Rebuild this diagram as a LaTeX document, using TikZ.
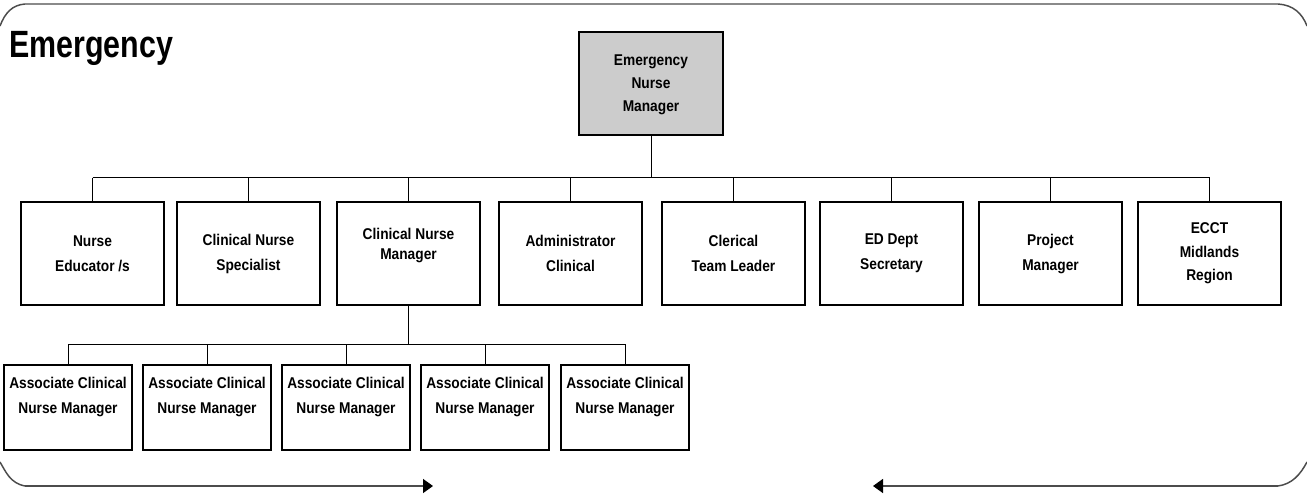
\documentclass[tikz,border=0pt]{standalone}
\usepackage{fontspec}
\setmainfont{Liberation Sans}
\newfontfamily\orgfont{Liberation Sans}[FakeStretch=0.88]
\newfontfamily\titlefont{Liberation Sans}[FakeStretch=0.8]
\usetikzlibrary{arrows.meta}

\tikzset{
  orgbox/.style={draw=black, line width=0.9pt, fill=white,
    minimum width=107.25pt, minimum height=77.25pt, inner sep=0pt,
    align=center, font=\orgfont\bfseries\fontsize{11.7}{18.75}\selectfont},
  headbox/.style={orgbox, fill=black!20, minimum width=108pt,
    font=\orgfont\bfseries\fontsize{11.7}{17.4}\selectfont},
  subbox/.style={orgbox, minimum width=96pt, minimum height=63.75pt},
  link/.style={draw=black, line width=0.75pt},
  frameline/.style={draw=black!70, line width=1.1pt},
  frametip/.style={frameline, -{Triangle[length=7.5pt,width=10.5pt,color=black]}},
}

\begin{document}
\begin{tikzpicture}[x=0.75pt, y=-0.75pt]
  \useasboundingbox (0,0) rectangle (1307,496);

  % surrounding frame with its two bottom arrows
  \coordinate (rightTip) at (433,486);
  \coordinate (leftTip) at (873,486);
  \coordinate (frameBL) at (25,486);
  \coordinate (frameBR) at (1278,486);
  \draw[frameline] (0,26) .. controls (5,13) and (12,5) .. (25,4)
    -- (1278,4) .. controls (1293,5) and (1302,13) .. (1307,26);
  \draw[frameline] (0,462) .. controls (6,472) and (10,483) .. (frameBL);
  \draw[frametip] (frameBL) -- (rightTip);
  \draw[frameline] (frameBR) .. controls (1292,484) and (1300,475) .. (1307,462);
  \draw[frametip] (frameBR) -- (leftTip);

  % title
  \node[anchor=base west, inner sep=0pt,
        font=\titlefont\bfseries\fontsize{28.5}{30}\selectfont] (title) at (9,57) {Emergency};

  % head of department
  \node[headbox] (head) at (651,83.5) {\rule{0pt}{10pt}Emergency\\Nurse\\Manager};

  % direct reports
  \node[orgbox] (edu) at (92.5,253.5)   {Nurse\\Educator /s};
  \node[orgbox] (cns) at (248.5,253.5)  {Clinical Nurse\\Specialist};
  \node[orgbox, font=\orgfont\bfseries\fontsize{11.7}{15}\selectfont]
                (cnm) at (408.5,253.5)  {Clinical Nurse\\Manager\\\mbox{}};
  \node[orgbox] (adm) at (570.5,253.5)  {Administrator\\Clinical};
  \node[orgbox] (cle) at (733.5,253.5)  {Clerical\\Team Leader};
  \node[orgbox] (sec) at (891.5,253.5)  {ED Dept\\Secretary};
  \node[orgbox] (pro) at (1050.5,253.5) {Project\\Manager};
  \node[orgbox, font=\orgfont\bfseries\fontsize{11.7}{17.6}\selectfont]
                (ecc) at (1209.5,253.5) {ECCT\\Midlands\\Region};

  % associate clinical nurse managers
  \node[subbox] (ac1) at (68,407.5)  {Associate Clinical\\Nurse Manager\\\mbox{}};
  \node[subbox] (ac2) at (207,407.5) {Associate Clinical\\Nurse Manager\\\mbox{}};
  \node[subbox] (ac3) at (346,407.5) {Associate Clinical\\Nurse Manager\\\mbox{}};
  \node[subbox] (ac4) at (485,407.5) {Associate Clinical\\Nurse Manager\\\mbox{}};
  \node[subbox] (ac5) at (625,407.5) {Associate Clinical\\Nurse Manager\\\mbox{}};

  % connectors: head to direct reports
  \coordinate (barA) at (0,177.5);
  \draw[link] (head.south) -- (head.south |- barA);
  \draw[link] (edu.north |- barA) -- (ecc.north |- barA);
  \foreach \n in {edu,cns,cnm,adm,cle,sec,pro,ecc}
    \draw[link] (\n.north |- barA) -- (\n.north);

  % connectors: clinical nurse manager to associates
  \coordinate (barB) at (0,344);
  \draw[link] (cnm.south) -- (cnm.south |- barB);
  \draw[link] (ac1.north |- barB) -- (ac5.north |- barB);
  \foreach \n in {ac1,ac2,ac3,ac4,ac5}
    \draw[link] (\n.north |- barB) -- (\n.north);
\end{tikzpicture}
\end{document}
